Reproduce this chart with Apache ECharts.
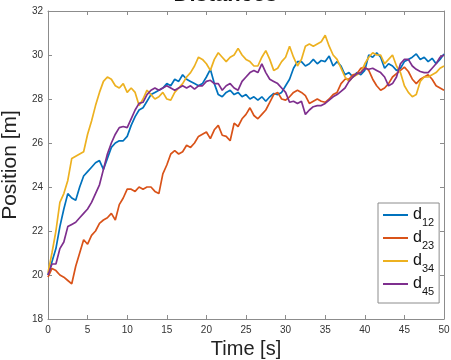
<!DOCTYPE html>
<html>
<head>
<meta charset="utf-8">
<script src="https://cdn.jsdelivr.net/npm/echarts@6/dist/echarts.min.js"></script>
<style>html,body{margin:0;padding:0;background:#fff}#c{width:451px;height:360px}</style>
</head>
<body>
<div id="c"></div>
<script>
// time samples (s), every 0.5 s
var time = [];
for (var i = 0; i <= 100; i++) time.push(i * 0.5);

var xTicks = [0, 5, 10, 15, 20, 25, 30, 35, 40, 45, 50];
var yTicks = [18, 20, 22, 24, 26, 28, 30, 32];
var seriesNames = ['d12', 'd23', 'd34', 'd45'];

var d12 = [20.0,20.6,21.2,22.2,23.0,23.7,23.5,23.4,24.0,24.5,24.7,24.9,25.1,25.2,24.8,25.3,25.8,26.0,26.1,26.1,
26.3,26.8,27.2,27.5,27.6,27.9,28.2,28.3,28.4,28.5,28.7,28.6,28.9,28.8,29.1,28.9,28.8,28.7,28.6,28.7,
29.0,29.35,28.7,28.2,28.1,28.3,28.4,28.2,28.3,28.1,28.2,28.0,28.1,27.95,28.1,27.9,28.1,28.25,28.2,28.3,
28.6,28.9,29.4,29.7,29.7,29.5,29.6,29.8,29.6,29.75,29.7,29.95,29.5,29.7,29.5,29.1,29.2,29.0,29.2,29.1,
29.3,30.0,29.9,30.1,29.9,29.4,29.6,29.5,29.3,29.4,29.7,29.8,29.9,30.05,29.8,29.9,29.7,29.85,29.6,29.8,30.05];

var d23 = [19.9,20.3,20.2,20.0,19.9,19.75,19.6,20.4,21.0,21.6,21.4,21.8,22.0,22.35,22.5,22.6,22.8,22.5,23.2,23.5,
23.9,23.9,23.8,24.0,23.9,24.0,24.0,23.8,23.7,24.6,25.0,25.5,25.65,25.5,25.6,25.9,25.8,26.0,26.3,26.4,
26.5,26.2,26.6,26.8,26.35,26.3,26.1,26.9,26.75,27.1,27.3,27.6,27.25,27.1,27.3,27.5,27.85,28.2,28.3,28.0,
27.95,28.1,28.3,28.4,28.3,28.15,27.8,27.9,28.0,27.9,27.85,28.0,28.2,28.3,28.7,28.9,28.9,29.1,29.15,29.4,
29.45,29.3,28.9,28.6,28.4,28.5,28.7,29.0,29.15,29.3,29.45,29.25,28.9,28.7,28.9,29.0,29.1,28.9,28.6,28.5,28.4];

var d34 = [20.1,21.0,22.0,23.3,23.7,24.3,25.3,25.4,25.5,25.6,26.4,27.0,27.7,28.3,28.8,29.0,28.9,28.6,28.5,28.7,
28.3,28.5,28.3,27.7,28.0,28.4,28.2,28.0,28.1,28.3,28.0,27.95,28.3,28.5,28.7,29.0,29.2,29.5,29.9,29.8,
29.6,29.3,29.8,30.1,29.9,29.7,29.9,30.0,30.3,30.0,29.8,29.7,29.5,29.5,29.9,30.2,29.8,29.3,29.4,29.7,
29.9,30.4,29.9,29.5,29.8,30.4,30.5,30.4,30.5,30.6,30.9,30.4,30.0,29.8,29.4,29.0,28.8,29.0,29.1,29.2,
29.6,29.9,30.1,30.0,30.0,29.6,29.8,30.0,29.5,29.2,28.6,28.3,28.1,28.2,28.8,29.0,29.0,29.1,29.2,29.4,29.5];

var d45 = [20.0,20.5,20.5,21.2,21.5,22.2,22.3,22.4,22.6,22.8,23.0,23.3,23.7,24.1,24.8,25.5,26.0,26.4,26.7,26.75,
26.7,27.1,27.5,27.8,27.85,28.2,28.4,28.5,28.4,28.5,28.6,28.5,28.4,28.5,28.6,28.5,28.6,28.45,28.6,28.6,
28.8,28.85,28.7,28.7,28.4,28.6,28.7,28.5,28.4,28.8,29.0,29.2,29.3,29.2,29.6,29.2,28.9,28.8,28.7,28.5,
28.3,27.85,27.9,27.8,27.9,27.3,27.5,27.65,27.7,27.7,27.8,27.95,28.1,28.2,28.35,28.5,28.8,29.0,29.15,29.2,
29.4,29.35,29.4,29.3,29.2,29.0,28.6,28.7,29.0,29.6,29.8,29.8,29.5,29.35,29.25,29.2,29.2,29.4,29.6,29.9,30.0];

var values = [d12, d23, d34, d45];
var colors = ['#0072BD', '#D95319', '#EDB120', '#7E2F8E'];

var FONT = '"Liberation Sans", Arial, Helvetica, sans-serif';
var axisColor = '#8c8c8c';

function pairs(v) {
  var out = [];
  for (var i = 0; i < time.length; i++) out.push([time[i], v[i]]);
  return out;
}

var series = seriesNames.map(function (n, k) {
  return {
    name: n, type: 'line', showSymbol: false, symbol: 'none',
    data: pairs(values[k]),
    lineStyle: { color: colors[k], width: 1.7 },
    itemStyle: { color: colors[k] },
    animation: false
  };
});

var chart = echarts.init(document.getElementById('c'), null, { renderer: 'canvas' });

function xAx(pos, show) {
  return {
    type: 'value', position: pos, min: xTicks[0], max: xTicks[xTicks.length - 1], interval: 5,
    axisLine: { show: true, onZero: false, lineStyle: { color: axisColor, width: 1 } },
    axisTick: { show: true, inside: true, length: 4, lineStyle: { color: axisColor } },
    splitLine: { show: false },
    axisLabel: { show: show, color: '#333', fontSize: 10, fontFamily: FONT, margin: 6 },
    name: show ? 'Time [s]' : '', nameLocation: 'middle', nameGap: 17,
    nameTextStyle: { color: '#222', fontSize: 20, fontFamily: FONT }
  };
}
function yAx(pos, show) {
  return {
    type: 'value', position: pos, min: yTicks[0], max: yTicks[yTicks.length - 1], interval: 2,
    axisLine: { show: true, onZero: false, lineStyle: { color: axisColor, width: 1 } },
    axisTick: { show: true, inside: true, length: 4, lineStyle: { color: axisColor } },
    splitLine: { show: false },
    axisLabel: { show: show, color: '#333', fontSize: 10, fontFamily: FONT, margin: 5 },
    name: show ? 'Position [m]' : '', nameLocation: 'middle', nameGap: 20, nameRotate: 90,
    nameTextStyle: { color: '#222', fontSize: 21, fontFamily: FONT }
  };
}

chart.setOption({
  animation: false,
  backgroundColor: '#fff',
  grid: { left: 48, right: 7, top: 11, bottom: 41, containLabel: false, outerBoundsMode: 'none' },
  xAxis: [xAx('bottom', true), xAx('top', false)],
  yAxis: [yAx('left', true), yAx('right', false)],
  legend: {
    orient: 'vertical', left: 378, top: 203,
    data: seriesNames,
    icon: 'rect', itemWidth: 25, itemHeight: 2, itemGap: 2,
    padding: [4, 5, 6, 5],
    backgroundColor: '#fff', borderColor: axisColor, borderWidth: 1, borderRadius: 0,
    formatter: function (name) { return '{b|d}{s|' + name.slice(1) + '}'; },
    textStyle: {
      color: '#111', fontFamily: FONT,
      rich: {
        b: { fontSize: 16, lineHeight: 20, fontFamily: FONT, color: '#111' },
        s: { fontSize: 11, lineHeight: 20, verticalAlign: 'bottom', fontFamily: FONT, color: '#111', padding: [0, 0, -3, 0] }
      }
    }
  },
  graphic: [{
    type: 'text', left: 'center', top: -16, z: 10,
    style: { text: 'Distances', fontSize: 22, fontWeight: 'bold', fontFamily: FONT, fill: '#111' }
  }],
  series: series
});
</script>
</body>
</html>
